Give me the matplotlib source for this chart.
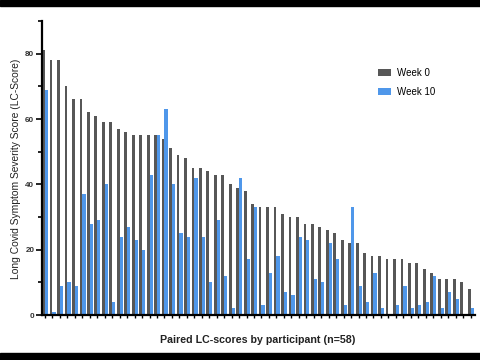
import matplotlib
matplotlib.use("Agg")
import matplotlib.pyplot as plt
import numpy as np
from matplotlib.patches import Rectangle
from matplotlib.ticker import MultipleLocator

# LC-scores per participant, sorted by week 0
week0 = [81, 78, 78, 70, 66, 66, 62, 61, 59, 59, 57, 56, 55, 55, 55, 55, 54, 51, 49, 48,
         45, 45, 44, 43, 43, 40, 39, 38, 34, 33, 33, 33, 31, 30, 30, 28, 28, 27, 26, 25,
         23, 22, 22, 19, 18, 18, 17, 17, 17, 16, 16, 14, 13, 11, 11, 11, 10, 8]
week10 = [69, 1, 9, 10, 9, 37, 28, 29, 40, 4, 24, 27, 23, 20, 43, 55, 63, 40, 25, 24,
          42, 24, 10, 29, 12, 2, 42, 17, 33, 3, 13, 18, 7, 6, 24, 23, 11, 10, 22, 17,
          3, 33, 9, 4, 13, 2, 0, 3, 9, 2, 3, 4, 12, 2, 7, 5, 0, 2]
series_names = ["Week 0", "Week 10"]

gray = "#575757"
blue = "#4f97ea"
plt.rcParams["font.family"] = ["Liberation Sans", "DejaVu Sans"]

fig = plt.figure(figsize=(4.8, 3.6), dpi=100)
# black letterbox bands top and bottom
fig.add_artist(Rectangle((0, 1 - 6/360), 1, 6/360, transform=fig.transFigure, color="black", zorder=10))
fig.add_artist(Rectangle((0, 0), 1, 7/360, transform=fig.transFigure, color="black", zorder=10))

ax = fig.add_axes([42/480, 45/360, 433/480, 294/360])
x = np.arange(len(week0))
ax.bar(x, week0, width=-0.37, align="edge", color=gray, label=series_names[0])
ax.bar(x, week10, width=0.43, align="edge", color=blue, label=series_names[1])

ax.set_xlim(-0.4, 57.6)
ax.set_ylim(0, 90)
for s in ["top", "right"]:
    ax.spines[s].set_visible(False)
ax.spines["left"].set_linewidth(1.6)
ax.spines["bottom"].set_linewidth(1.6)

ax.set_xticks(x)
ax.set_xticklabels([])
ax.tick_params(axis="x", length=2, width=1)
ax.yaxis.set_major_locator(MultipleLocator(20))
ax.yaxis.set_minor_locator(MultipleLocator(10))
ax.tick_params(axis="y", which="major", length=4, width=1.2, labelsize=5.8, pad=1.5, labelcolor="#333333")
ax.tick_params(axis="y", which="minor", length=3, width=1.2)
for lab in ax.get_yticklabels():
    lab.set_fontweight("bold")

fig.text(16/480, 1 - 169/360, "Long Covid Symptom Severity Score (LC-Score)", rotation=90,
         ha="center", va="center", fontsize=7.4, color="#222222")
fig.text(258/480, 1 - 340/360, "Paired LC-scores by participant (n=58)",
         ha="center", va="center", fontsize=7.7, fontweight="bold", color="#222222")

ax.legend(loc="upper left", bbox_to_anchor=(378/480, 1 - 68/360), bbox_transform=fig.transFigure,
          frameon=False, fontsize=7, handlelength=1.3, handleheight=0.7, handletextpad=0.7,
          labelspacing=0.95, borderpad=0, borderaxespad=0)

fig.savefig("out.png", dpi=100, facecolor="white")
